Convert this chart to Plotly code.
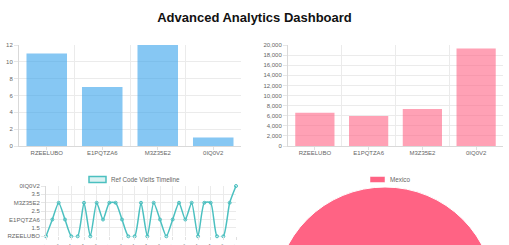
import plotly.graph_objects as go

W, H = 509, 420

ref_codes = ["RZEELUBO", "E1PQTZA6", "M3Z35E2", "0IQ0V2"]
visit_counts = [11, 7, 12, 1]
revenue = [6600, 5950, 7350, 19300]

timeline_labels = [
    "10/01", "10/02", "10/03", "10/04", "10/05", "10/06", "10/07", "10/08",
    "10/09", "10/10", "10/11", "10/12", "10/13", "10/14", "10/15", "10/16",
    "10/17", "10/18", "10/19", "10/20", "10/21", "10/22", "10/23", "10/24",
    "10/25", "10/26", "10/27", "10/28", "10/29", "10/30", "10/31",
]
timeline_codes = [1, 2, 3, 2, 1, 1, 3, 1, 3, 2, 3, 3, 2, 1, 1, 3,
                  1, 3, 2, 1, 2, 3, 2, 3, 1, 3, 3, 1, 1, 3, 4]
y_tick_vals = [1, 1.5, 2, 2.5, 3, 3.5, 4]
y_tick_text = ["RZEELUBO", "1.5", "E1PQTZA6", "2.5", "M3Z35E2", "3.5", "0IQ0V2"]

countries = ["Mexico"]
country_visits = [31]
line_series_name = "Ref Code Visits Timeline"

def px(x):
    return x / W

def py(y):
    return (H - y) / H

GRID = "#ebebeb"
TICKC = "#666666"
FONT = "Liberation Sans, Arial, sans-serif"
tickfont = dict(size=6, color=TICKC, family=FONT)
TEAL = "rgb(75,192,192)"
PINK = "rgb(255,99,132)"

fig = go.Figure()

xi = list(range(len(ref_codes)))
fig.add_trace(go.Bar(x=xi, y=visit_counts, marker=dict(color="rgba(54,162,235,0.6)", line=dict(width=0)),
                     xaxis="x", yaxis="y", showlegend=False, name="Visits"))
fig.add_trace(go.Bar(x=xi, y=revenue, marker=dict(color="rgba(255,99,132,0.6)", line=dict(width=0)),
                     xaxis="x2", yaxis="y2", showlegend=False, name="Revenue"))

ti = list(range(len(timeline_codes)))
fig.add_trace(go.Scatter(x=ti, y=timeline_codes, mode="lines+markers", name=line_series_name,
                         line=dict(color=TEAL, width=1.5, shape="spline", smoothing=0.6),
                         marker=dict(size=3, color="rgba(75,192,192,0.2)", line=dict(color=TEAL, width=1)),
                         xaxis="x3", yaxis="y3", showlegend=False, cliponaxis=False))

fig.add_trace(go.Pie(labels=countries, values=country_visits, sort=False, direction="clockwise",
                     rotation=0, textinfo="none", hoverinfo="label+value",
                     marker=dict(colors=[PINK], line=dict(color="white", width=1)),
                     domain=dict(x=[px(275), px(495)], y=[py(407), py(187)]),
                     showlegend=False))

# Chart.js-style legends (wide boxes)
fig.add_shape(type="rect", xref="paper", yref="paper", x0=px(89), x1=px(106), y0=py(182.5), y1=py(176.5),
              line=dict(color=TEAL, width=1.5), fillcolor="rgba(75,192,192,0.2)")
fig.add_annotation(text=line_series_name, xref="paper", yref="paper", x=px(108.5), y=py(179.5),
                   xanchor="left", yanchor="middle", showarrow=False,
                   font=dict(size=6.3, color=TICKC, family=FONT))
fig.add_shape(type="rect", xref="paper", yref="paper", x0=px(370), x1=px(385), y0=py(182.5), y1=py(176.5),
              line=dict(color="white", width=0.5), fillcolor=PINK)
fig.add_annotation(text=countries[0], xref="paper", yref="paper", x=px(387.5), y=py(179.5),
                   xanchor="left", yanchor="middle", showarrow=False,
                   font=dict(size=6.3, color=TICKC, family=FONT))

bar_x_common = dict(tickmode="array", tickvals=xi, ticktext=ref_codes, range=[-0.5, 3.5],
                    showgrid=False, zeroline=False, showline=True, linecolor="#d9d9d9", linewidth=1,
                    ticks="outside", ticklen=3, tickcolor="#e0e0e0", tickfont=tickfont, automargin=False,
                    ticklabelstandoff=-2,
                    minor=dict(tick0=0.5, dtick=1, showgrid=True, gridcolor=GRID, gridwidth=1))
y_common = dict(showgrid=True, gridcolor=GRID, zeroline=False, showline=True, linecolor="#d9d9d9",
                linewidth=1, ticks="outside", ticklen=4, tickcolor="#e6e6e6", tickfont=tickfont,
                automargin=False)

fig.update_layout(
    width=W, height=H,
    margin=dict(l=0, r=0, t=0, b=0, autoexpand=False),
    paper_bgcolor="white", plot_bgcolor="white",
    bargap=0.27,
    showlegend=False,
    font=dict(family=FONT, color=TICKC),
    title=dict(text="<b>Advanced Analytics Dashboard</b>", x=0.5, xanchor="center",
               y=py(17), yanchor="middle", font=dict(size=13, color="#111111", family=FONT),
               automargin=False),
    xaxis=dict(domain=[px(19), px(241)], anchor="y", **bar_x_common),
    yaxis=dict(domain=[py(146), py(45)], anchor="x", range=[0, 12], dtick=2, **y_common),
    xaxis2=dict(domain=[px(288), px(503)], anchor="y2", **bar_x_common),
    yaxis2=dict(domain=[py(146), py(45)], anchor="x2", range=[0, 20000], dtick=2000,
                tickformat=",d", **y_common),
    xaxis3=dict(domain=[px(46), px(236)], anchor="y3", range=[0, 30], tickmode="array",
                tickvals=ti[::2], ticktext=timeline_labels[::2], tickangle=-45,
                showgrid=True, gridcolor=GRID, zeroline=False, showline=False, automargin=False,
                ticks="outside", ticklen=3, tickcolor="#e0e0e0", tickfont=tickfont),
    yaxis3=dict(domain=[py(236.3), py(186)], anchor="x3", range=[1, 4], tickmode="array",
                tickvals=y_tick_vals, ticktext=y_tick_text, **y_common),
)

fig.write_html("out.html")
